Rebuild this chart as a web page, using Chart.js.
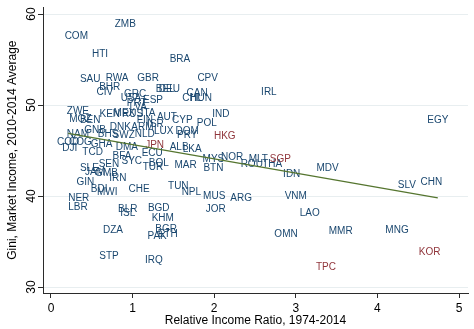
<!DOCTYPE html>
<html>
<head>
<meta charset="utf-8">
<script src="https://cdn.jsdelivr.net/npm/chart.js@4/dist/chart.umd.min.js"></script>
<style>
  html, body { margin: 0; padding: 0; background: #ffffff; }
  #wrap { width: 474px; height: 329px; }
</style>
</head>
<body>
<div id="wrap"><canvas id="c" width="474" height="329"></canvas></div>
<script>
// Country codes with relative income ratio (x) and market-income Gini (y)
const codes = ['ZMB','COM','HTI','SAU','RWA','GBR','BRA','CPV','BHR','CIV',
  'BEL','DEU','CAN','CHL','HUN','IRL','GRC','USA','ESP','PRT',
  'LVA','ZWE','MOZ','BEN','KEN','MEX','RUS','ITA','FIN','ARM',
  'ISR','AUT','CYP','POL','IND','DNK','NLD','LUX','DOM','PRY',
  'HKG','GNB','BHS','SWZ','NAM','COD','COG','DJI','GHA','TCD',
  'DMA','JPN','ALB','LKA','ECU','BFA','SEN','SYC','BOL','TUR',
  'MAR','MYS','BTN','NOR','MLT','ROU','THA','SGP','IDN','MDV',
  'EGY','SLV','CHN','SLE','JAM','GMB','IRN','GIN','BDI','MWI',
  'NER','LBR','CHE','TUN','NPL','MUS','ARG','JOR','VNM','LAO',
  'BLR','ISL','BGD','KHM','DZA','BGR','PAK','ETH','OMN','MMR',
  'MNG','KOR','STP','IRQ','TPC'];
const incomeRatio = [0.91,0.31,0.60,0.48,0.81,1.19,1.58,1.92,0.72,0.66,
  1.40,1.45,1.79,1.73,1.84,2.67,1.03,0.98,1.25,1.05,
  1.07,0.33,0.36,0.48,0.72,0.90,1.00,1.19,1.15,1.12,
  1.28,1.42,1.61,1.91,2.08,0.85,1.15,1.38,1.67,1.67,
  2.13,0.54,0.70,0.89,0.33,0.21,0.36,0.23,0.62,0.51,
  0.93,1.27,1.57,1.73,1.24,0.87,0.71,0.99,1.32,1.25,
  1.65,1.99,1.99,2.22,2.54,2.46,2.71,2.81,2.95,3.39,
  4.74,4.36,4.66,0.47,0.54,0.68,0.82,0.42,0.59,0.69,
  0.34,0.33,1.08,1.56,1.72,2.00,2.33,2.02,3.00,3.17,
  0.94,0.94,1.32,1.37,0.76,1.41,1.30,1.43,2.88,3.55,
  4.24,4.64,0.71,1.26,3.37];
const giniMarket = [58.9,57.6,55.6,52.8,53.0,53.0,55.0,53.0,52.0,51.4,
  51.7,51.7,51.3,50.7,50.7,51.4,51.2,50.7,50.5,50.2,
  49.8,49.3,48.4,48.3,49.0,49.1,49.0,49.1,48.3,47.6,
  47.9,48.7,48.3,48.0,49.0,47.6,46.8,47.1,47.1,46.7,
  46.6,47.2,46.8,46.7,46.8,45.9,45.9,45.3,45.7,44.8,
  45.4,45.6,45.4,45.1,44.7,44.4,43.5,43.8,43.6,43.2,
  43.4,44.1,43.1,44.3,44.1,43.5,43.5,44.0,42.4,43.1,
  48.3,41.2,41.5,43.1,42.6,42.5,42.0,41.5,40.7,40.4,
  39.8,38.8,40.8,41.1,40.4,40.0,39.8,38.5,40.0,38.1,
  38.6,38.1,38.7,37.6,36.2,36.4,35.6,35.8,35.8,36.1,
  36.3,33.8,33.4,33.0,32.2];
const highlighted = ['HKG','JPN','SGP','TPC','KOR'];

// Linear fit end points
const fitX = [0.21, 4.74];
const fitY = [46.9, 39.8];

// Axis ticks
const xTicks = [0, 1, 2, 3, 4, 5];
const yTicks = [30, 40, 50, 60];

const NAVY = '#1a476f';
const MAROON = '#90353b';
const GREEN = '#55752f';
const AXIS = '#2b2b2b';
const GRID = '#e8eef0';
const FONT = "'Liberation Sans', Arial, Helvetica, sans-serif";

const points = codes.map((c, i) => ({ x: incomeRatio[i], y: giniMarket[i] }));
const fitLine = fitX.map((x, i) => ({ x: x, y: fitY[i] }));

// Country codes drawn centred on each point, beneath the fitted line
const markerLabels = {
  id: 'markerLabels',
  beforeDatasetsDraw(chart) {
    const meta = chart.getDatasetMeta(0);
    const ctx = chart.ctx;
    ctx.save();
    ctx.font = '10px ' + FONT;
    ctx.textAlign = 'center';
    ctx.textBaseline = 'middle';
    meta.data.forEach((el, i) => {
      ctx.fillStyle = highlighted.includes(codes[i]) ? MAROON : NAVY;
      ctx.fillText(codes[i], el.x, el.y);
    });
    ctx.restore();
  }
};

new Chart(document.getElementById('c'), {
  type: 'scatter',
  data: {
    datasets: [
      { data: points, pointRadius: 0, pointHoverRadius: 0, showLine: false },
      { type: 'line', data: fitLine, borderColor: GREEN, borderWidth: 1.3,
        pointRadius: 0, fill: false, tension: 0 }
    ]
  },
  options: {
    responsive: false,
    animation: false,
    devicePixelRatio: 1,
    layout: { padding: { top: 5, right: 6, left: 0, bottom: 0 } },
    plugins: { legend: { display: false }, tooltip: { enabled: false } },
    events: [],
    scales: {
      x: {
        type: 'linear',
        min: -0.098,
        max: 5.11,
        afterBuildTicks: (axis) => { axis.ticks = xTicks.map(v => ({ value: v })); },
        afterFit: (axis) => { axis.height = 36; },
        grid: { drawOnChartArea: false, drawTicks: true, tickLength: 5,
                color: AXIS, tickColor: AXIS, lineWidth: 1 },
        border: { display: true, color: AXIS, width: 1 },
        ticks: { color: '#000', font: { family: FONT, size: 12 }, padding: 3,
                 autoSkip: false, maxRotation: 0 },
        title: { display: true, text: 'Relative Income Ratio, 1974-2014',
                 color: '#000', font: { family: FONT, size: 12 },
                 padding: { top: 0, bottom: 1 } }
      },
      y: {
        type: 'linear',
        min: 29.35,
        max: 60.76,
        afterBuildTicks: (axis) => { axis.ticks = yTicks.map(v => ({ value: v })); },
        afterFit: (axis) => { axis.width = 43; },
        grid: { drawOnChartArea: true, drawTicks: true, tickLength: 5,
                color: GRID, tickColor: AXIS, lineWidth: 1 },
        border: { display: true, color: AXIS, width: 1 },
        ticks: { color: '#000', font: { family: FONT, size: 12 }, padding: 0,
                 autoSkip: false, minRotation: 90, maxRotation: 90,
                 crossAlign: 'center' },
        title: { display: true, text: 'Gini, Market Income, 2010-2014 Average',
                 color: '#000', font: { family: FONT, size: 12 },
                 padding: { top: 5, bottom: 0 } }
      }
    }
  },
  plugins: [markerLabels]
});
</script>
</body>
</html>
